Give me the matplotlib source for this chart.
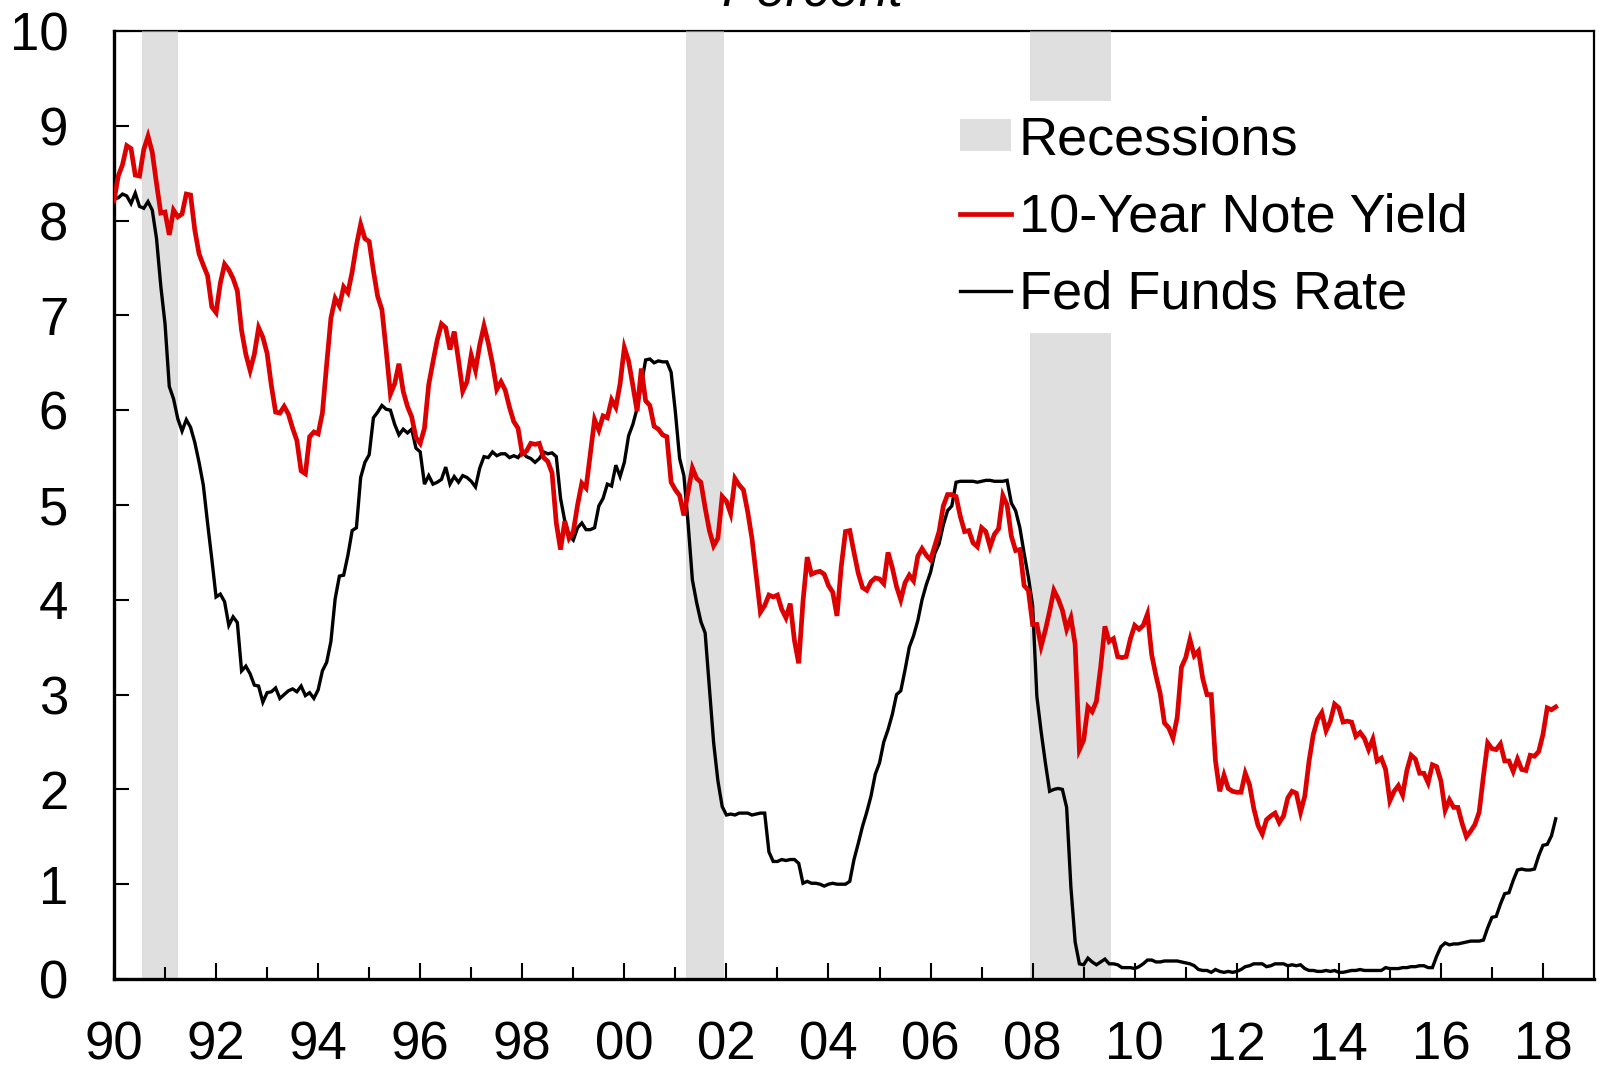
import matplotlib
matplotlib.use("Agg")
import matplotlib.pyplot as plt
from matplotlib.patches import Patch
from matplotlib.lines import Line2D
import numpy as np

plt.rcParams['font.family'] = ['Liberation Sans', 'DejaVu Sans']

START_YEAR = 1990  # monthly data starting January 1990

# 10-Year Treasury note yield, monthly average, percent
ten_year = [
    8.21, 8.47, 8.59, 8.79, 8.76, 8.48, 8.47, 8.75, 8.89, 8.72, 8.39, 8.08,  # 1990
    8.09, 7.85, 8.11, 8.04, 8.07, 8.28, 8.27, 7.90, 7.65, 7.53, 7.42, 7.09,  # 1991
    7.03, 7.34, 7.54, 7.48, 7.39, 7.26, 6.84, 6.59, 6.42, 6.59, 6.87, 6.77,  # 1992
    6.60, 6.26, 5.98, 5.97, 6.04, 5.96, 5.81, 5.68, 5.36, 5.33, 5.72, 5.77,  # 1993
    5.75, 5.97, 6.48, 6.97, 7.18, 7.10, 7.30, 7.24, 7.46, 7.74, 7.96, 7.81,  # 1994
    7.78, 7.47, 7.20, 7.06, 6.63, 6.17, 6.28, 6.49, 6.20, 6.04, 5.93, 5.71,  # 1995
    5.65, 5.81, 6.27, 6.51, 6.74, 6.91, 6.87, 6.64, 6.83, 6.53, 6.20, 6.30,  # 1996
    6.58, 6.42, 6.69, 6.89, 6.71, 6.49, 6.22, 6.30, 6.21, 6.03, 5.88, 5.81,  # 1997
    5.54, 5.57, 5.65, 5.64, 5.65, 5.50, 5.46, 5.34, 4.81, 4.53, 4.83, 4.65,  # 1998
    4.72, 5.00, 5.23, 5.18, 5.54, 5.90, 5.79, 5.94, 5.92, 6.11, 6.03, 6.28,  # 1999
    6.66, 6.52, 6.26, 5.99, 6.44, 6.10, 6.05, 5.83, 5.80, 5.74, 5.72, 5.24,  # 2000
    5.16, 5.10, 4.89, 5.14, 5.39, 5.28, 5.24, 4.97, 4.73, 4.57, 4.65, 5.09,  # 2001
    5.04, 4.91, 5.28, 5.21, 5.16, 4.93, 4.65, 4.26, 3.87, 3.94, 4.05, 4.03,  # 2002
    4.05, 3.90, 3.81, 3.96, 3.57, 3.33, 3.98, 4.45, 4.27, 4.29, 4.30, 4.27,  # 2003
    4.15, 4.08, 3.83, 4.35, 4.72, 4.73, 4.50, 4.28, 4.13, 4.10, 4.19, 4.23,  # 2004
    4.22, 4.17, 4.50, 4.34, 4.14, 4.00, 4.18, 4.26, 4.20, 4.46, 4.54, 4.47,  # 2005
    4.42, 4.57, 4.72, 4.99, 5.11, 5.11, 5.09, 4.88, 4.72, 4.73, 4.60, 4.56,  # 2006
    4.76, 4.72, 4.56, 4.69, 4.75, 5.10, 5.00, 4.67, 4.52, 4.53, 4.15, 4.10,  # 2007
    3.74, 3.74, 3.51, 3.68, 3.88, 4.10, 4.01, 3.89, 3.69, 3.81, 3.53, 2.42,  # 2008
    2.52, 2.87, 2.82, 2.93, 3.29, 3.72, 3.56, 3.59, 3.40, 3.39, 3.40, 3.59,  # 2009
    3.73, 3.69, 3.73, 3.85, 3.42, 3.20, 3.01, 2.70, 2.65, 2.54, 2.76, 3.29,  # 2010
    3.39, 3.58, 3.41, 3.46, 3.17, 3.00, 3.00, 2.30, 1.98, 2.15, 2.01, 1.98,  # 2011
    1.97, 1.97, 2.17, 2.05, 1.80, 1.62, 1.53, 1.68, 1.72, 1.75, 1.65, 1.72,  # 2012
    1.91, 1.98, 1.96, 1.76, 1.93, 2.30, 2.58, 2.74, 2.81, 2.62, 2.72, 2.90,  # 2013
    2.86, 2.71, 2.72, 2.71, 2.56, 2.60, 2.54, 2.42, 2.53, 2.30, 2.33, 2.21,  # 2014
    1.88, 1.98, 2.04, 1.94, 2.20, 2.36, 2.32, 2.17, 2.17, 2.07, 2.26, 2.24,  # 2015
    2.09, 1.78, 1.89, 1.81, 1.81, 1.64, 1.50, 1.56, 1.63, 1.76, 2.14, 2.49,  # 2016
    2.43, 2.42, 2.48, 2.30, 2.30, 2.19, 2.32, 2.21, 2.20, 2.36, 2.35, 2.40,  # 2017
    2.58, 2.86, 2.84, 2.87,                                                  # 2018
]

# Effective federal funds rate, monthly average, percent
fed_funds = [
    8.23, 8.24, 8.28, 8.26, 8.18, 8.29, 8.15, 8.13, 8.20, 8.11, 7.81, 7.31,  # 1990
    6.91, 6.25, 6.12, 5.91, 5.78, 5.90, 5.82, 5.66, 5.45, 5.21, 4.81, 4.43,  # 1991
    4.03, 4.06, 3.98, 3.73, 3.82, 3.76, 3.25, 3.30, 3.22, 3.10, 3.09, 2.92,  # 1992
    3.02, 3.03, 3.07, 2.96, 3.00, 3.04, 3.06, 3.03, 3.09, 2.99, 3.02, 2.96,  # 1993
    3.05, 3.25, 3.34, 3.56, 4.01, 4.25, 4.26, 4.47, 4.73, 4.76, 5.29, 5.45,  # 1994
    5.53, 5.92, 5.98, 6.05, 6.01, 6.00, 5.85, 5.74, 5.80, 5.76, 5.80, 5.60,  # 1995
    5.56, 5.22, 5.31, 5.22, 5.24, 5.27, 5.40, 5.22, 5.30, 5.24, 5.31, 5.29,  # 1996
    5.25, 5.19, 5.39, 5.51, 5.50, 5.56, 5.52, 5.54, 5.54, 5.50, 5.52, 5.50,  # 1997
    5.56, 5.51, 5.49, 5.45, 5.49, 5.56, 5.54, 5.55, 5.51, 5.07, 4.83, 4.68,  # 1998
    4.63, 4.76, 4.81, 4.74, 4.74, 4.76, 4.99, 5.07, 5.22, 5.20, 5.42, 5.30,  # 1999
    5.45, 5.73, 5.85, 6.02, 6.27, 6.53, 6.54, 6.50, 6.52, 6.51, 6.51, 6.40,  # 2000
    5.98, 5.49, 5.31, 4.80, 4.21, 3.97, 3.77, 3.65, 3.07, 2.49, 2.09, 1.82,  # 2001
    1.73, 1.74, 1.73, 1.75, 1.75, 1.75, 1.73, 1.74, 1.75, 1.75, 1.34, 1.24,  # 2002
    1.24, 1.26, 1.25, 1.26, 1.26, 1.22, 1.01, 1.03, 1.01, 1.01, 1.00, 0.98,  # 2003
    1.00, 1.01, 1.00, 1.00, 1.00, 1.03, 1.26, 1.43, 1.61, 1.76, 1.93, 2.16,  # 2004
    2.28, 2.50, 2.63, 2.79, 3.00, 3.04, 3.26, 3.50, 3.62, 3.78, 4.00, 4.16,  # 2005
    4.29, 4.49, 4.59, 4.79, 4.94, 4.99, 5.24, 5.25, 5.25, 5.25, 5.25, 5.24,  # 2006
    5.25, 5.26, 5.26, 5.25, 5.25, 5.25, 5.26, 5.02, 4.94, 4.76, 4.49, 4.24,  # 2007
    3.94, 2.98, 2.61, 2.28, 1.98, 2.00, 2.01, 2.00, 1.81, 0.97, 0.39, 0.16,  # 2008
    0.15, 0.22, 0.18, 0.15, 0.18, 0.21, 0.16, 0.16, 0.15, 0.12, 0.12, 0.12,  # 2009
    0.11, 0.13, 0.16, 0.20, 0.20, 0.18, 0.18, 0.19, 0.19, 0.19, 0.19, 0.18,  # 2010
    0.17, 0.16, 0.14, 0.10, 0.09, 0.09, 0.07, 0.10, 0.08, 0.07, 0.08, 0.07,  # 2011
    0.08, 0.10, 0.13, 0.14, 0.16, 0.16, 0.16, 0.13, 0.14, 0.16, 0.16, 0.16,  # 2012
    0.14, 0.15, 0.14, 0.15, 0.11, 0.09, 0.09, 0.08, 0.08, 0.09, 0.08, 0.09,  # 2013
    0.07, 0.07, 0.08, 0.09, 0.09, 0.10, 0.09, 0.09, 0.09, 0.09, 0.09, 0.12,  # 2014
    0.11, 0.11, 0.11, 0.12, 0.12, 0.13, 0.13, 0.14, 0.14, 0.12, 0.12, 0.24,  # 2015
    0.34, 0.38, 0.36, 0.37, 0.37, 0.38, 0.39, 0.40, 0.40, 0.40, 0.41, 0.54,  # 2016
    0.65, 0.66, 0.79, 0.90, 0.91, 1.04, 1.15, 1.16, 1.15, 1.15, 1.16, 1.30,  # 2017
    1.41, 1.42, 1.51, 1.69,                                                  # 2018
]

# NBER recessions (decimal years)
recession_start = [1990.55, 2001.20, 2007.95]
recession_end = [1991.25, 2001.95, 2009.53]

x_major_ticks = list(range(1990, 2019, 2))
x_tick_labels = ["90", "92", "94", "96", "98", "00", "02", "04", "06", "08",
                 "10", "12", "14", "16", "18"]
y_ticks = list(range(0, 11))

legend_labels = ["Recessions", "10-Year Note Yield", "Fed Funds Rate"]

RED = "#DD0000"
GRAY = (0.78, 0.78, 0.78)

W, H = 1599, 1071
fig = plt.figure(figsize=(W / 100, H / 100), dpi=100)
ax = fig.add_axes([114 / W, 1 - 979 / H, (1594 - 114) / W, (979 - 31) / H])

x10 = START_YEAR + np.arange(len(ten_year)) / 12.0
xff = START_YEAR + np.arange(len(fed_funds)) / 12.0

for s, e in zip(recession_start, recession_end):
    ax.axvspan(s, e, color=GRAY, alpha=0.56, lw=0, zorder=1)

ax.plot(xff, fed_funds, color="black", lw=2.4, zorder=3, solid_joinstyle="miter")
ax.plot(x10, ten_year, color=RED, lw=3.4, zorder=4, solid_joinstyle="miter")

ax.set_xlim(1990, 2019)
ax.set_ylim(0, 10)

ax.set_xticks(x_major_ticks)
ax.set_xticklabels(x_tick_labels)
ax.set_xticks(list(range(1991, 2019, 2)), minor=True)
ax.set_yticks(y_ticks)

ax.tick_params(axis="x", which="major", direction="in", length=11.5, width=1.5,
               labelsize=38, pad=30)
ax.tick_params(axis="x", which="minor", direction="in", length=8.5, width=1.5)
ax.tick_params(axis="y", which="major", direction="in", length=11, width=1.5,
               labelsize=38, pad=33)
ax.tick_params(top=False, right=False)

for side in ["left", "bottom"]:
    ax.spines[side].set_linewidth(2.4)
for side in ["top", "right"]:
    ax.spines[side].set_linewidth(1.6)
ax.spines["top"].set_zorder(0.5)

handles = [
    Patch(facecolor=(0.875, 0.875, 0.875), edgecolor="none"),
    Line2D([], [], color=RED, lw=3.4),
    Line2D([], [], color="black", lw=2.4),
]
leg = ax.legend(handles, legend_labels, loc="upper left",
                bbox_to_anchor=((946 - 114) / 1480, (979 - 101) / 948),
                borderaxespad=0, frameon=True, fancybox=False,
                facecolor="white", edgecolor="none", framealpha=1,
                fontsize=39, handlelength=0.94, handleheight=0.53,
                handletextpad=0.14, labelspacing=0.5, borderpad=0.26)
leg.set_zorder(5)

fig.text(812 / W, 1 - 5 / H, "Percent", ha="center", va="baseline",
         fontsize=38, style="italic")

fig.savefig("out.png", dpi=100)
